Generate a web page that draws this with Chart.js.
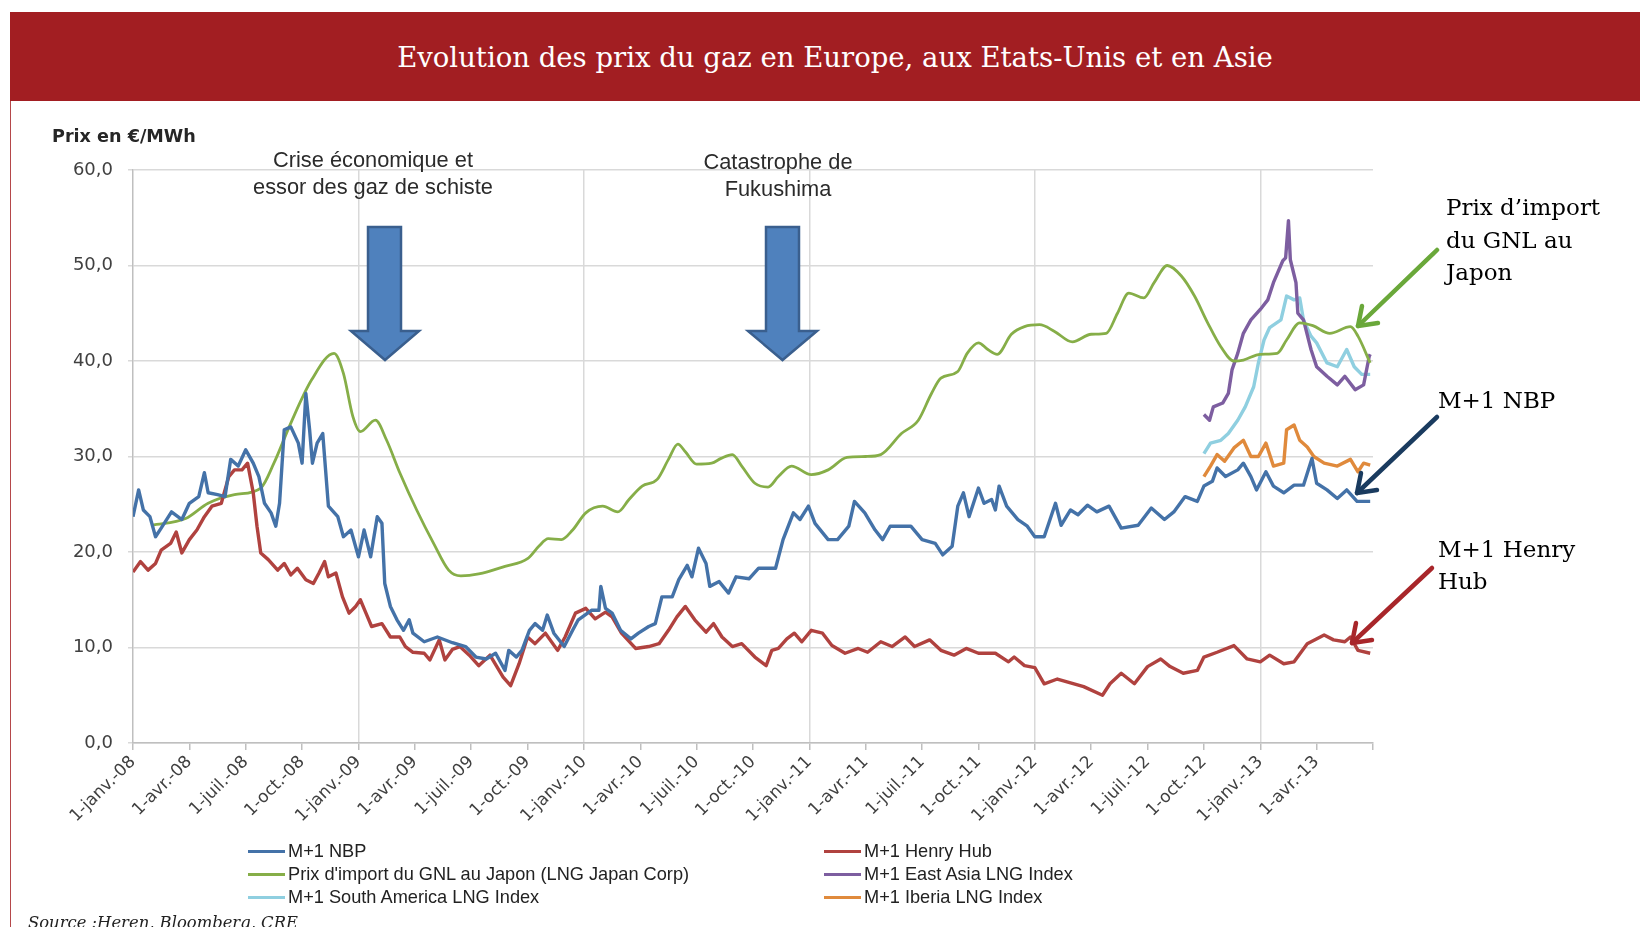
<!DOCTYPE html>
<html lang="fr">
<head>
<meta charset="utf-8">
<title>Evolution des prix du gaz</title>
<script src="https://cdn.jsdelivr.net/npm/chart.js@4.4.0/dist/chart.umd.min.js"></script>
<style>
  html, body { margin:0; padding:0; }
  body { width:1640px; height:927px; overflow:hidden; background:#fff; position:relative; }
  #banner { position:absolute; left:10px; top:12px; width:1630px; height:89px; background:#a21e22; }
  #title { position:absolute; left:0; width:1670px; top:37px; line-height:40px; text-align:center;
           font-family:"DejaVu Serif", serif; font-size:27.5px; color:#fff; white-space:nowrap; }
  #leftline { position:absolute; left:10px; top:101px; width:1px; height:826px; background:#b5484a; }
  #wrap { position:absolute; left:0; top:0; width:1640px; height:927px; }
  .ann { position:absolute; font-family:"Liberation Sans", Arial, sans-serif; font-size:21.8px; color:#2b2b2b;
         text-align:center; line-height:27px; white-space:nowrap; }
  .rann { position:absolute; font-family:"DejaVu Serif", serif; font-size:23px; color:#000; white-space:nowrap; }
  #ytitle { position:absolute; left:52px; top:126px; line-height:20px; font-family:"DejaVu Sans", sans-serif;
            font-weight:bold; font-size:17.6px; color:#262626; white-space:nowrap; }
  .leg { position:absolute; height:22px; display:flex; align-items:center; font-family:"Liberation Sans", Arial, sans-serif;
         font-size:18.2px; color:#222; white-space:nowrap; }
  .leg span.sw { display:inline-block; width:37px; height:3px; margin-right:3px; }
  #source { position:absolute; left:28px; top:913px; line-height:20px; font-family:"DejaVu Serif", serif; font-style:italic;
            font-size:16.4px; color:#222; white-space:nowrap; }
  svg { position:absolute; left:0; top:0; pointer-events:none; }
</style>
</head>
<body>
<div id="banner"></div>
<div id="title">Evolution des prix du gaz en Europe, aux Etats-Unis et en Asie</div>
<div id="leftline"></div>
<div id="wrap"><canvas id="chart" width="1640" height="927"></canvas></div>
<div id="ytitle">Prix en €/MWh</div>
<div class="ann" style="left:223px; width:300px; top:146px;">Crise économique et<br>essor des gaz de schiste</div>
<div class="ann" style="left:628px; width:300px; top:148px;">Catastrophe de<br>Fukushima</div>
<div class="rann" style="left:1446px; top:191px; line-height:32.5px;">Prix d’import<br>du GNL au<br>Japon</div>
<div class="rann" style="left:1438px; top:384px; line-height:33px;">M+1 NBP</div>
<div class="rann" style="left:1438px; top:534px; line-height:31.5px;">M+1 Henry<br>Hub</div>
<svg width="1640" height="927" viewBox="0 0 1640 927">
  <polygon points="368,227 401,227 401,331 419,331 385,360 351,331 368,331" fill="#4f81bd" stroke="#3a5f8e" stroke-width="2.5" stroke-linejoin="miter"/>
  <polygon points="766,227 799,227 799,331 817,331 782.5,360 748,331 766,331" fill="#4f81bd" stroke="#3a5f8e" stroke-width="2.5" stroke-linejoin="miter"/>
  <g fill="none" stroke-width="4.5" stroke-linecap="round" stroke-linejoin="round">
    <line x1="1437" y1="250" x2="1358" y2="326" stroke="#6aa83a"/>
    <polyline points="1378,323 1358,326 1362,306" stroke="#6aa83a"/>
    <line x1="1437" y1="417" x2="1357" y2="493" stroke="#1a3b5f"/>
    <polyline points="1377,490 1357,493 1361,473" stroke="#1a3b5f"/>
    <line x1="1432" y1="568" x2="1352" y2="643" stroke="#a8262a"/>
    <polyline points="1372,640 1352,643 1356,623" stroke="#a8262a"/>
  </g>
</svg>
<div id="legend"></div>
<div id="source">Source :Heren, Bloomberg, CRE</div>

<script>
// ---- Axis ticks (months since 1-janv.-08) ----
const tickMonths = [0,3,6,9,12,15,18,21,24,27,30,33,36,39,42,45,48,51,54,57,60,63,66];
const tickLabels = ['1-janv.-08','1-avr.-08','1-juil.-08','1-oct.-08','1-janv.-09','1-avr.-09','1-juil.-09','1-oct.-09',
  '1-janv.-10','1-avr.-10','1-juil.-10','1-oct.-10','1-janv.-11','1-avr.-11','1-juil.-11','1-oct.-11',
  '1-janv.-12','1-avr.-12','1-juil.-12','1-oct.-12','1-janv.-13','1-avr.-13',''];

// ---- M+1 NBP ----
const nbpMonths = [0,0.3,0.55,0.9,1.2,1.5,2.05,2.6,3.0,3.5,3.8,4.0,4.5,4.9,5.2,5.6,6.0,6.4,6.7,7.0,7.35,7.6,7.8,8.05,8.4,8.8,9.0,9.2,9.4,9.55,9.8,10.1,10.25,10.4,10.9,11.2,11.6,12.0,12.3,12.65,13.0,13.25,13.4,13.7,14.05,14.4,14.7,14.9,15.5,16.2,17.0,17.7,18.25,18.8,19.3,19.8,20.0,20.4,20.7,21.1,21.4,21.8,22.05,22.4,22.95,23.4,23.7,24.4,24.8,24.9,25.15,25.5,25.95,26.5,26.9,27.45,27.8,28.15,28.7,29.05,29.5,29.75,30.1,30.5,30.7,31.2,31.7,32.1,32.8,33.3,34.2,34.6,35.15,35.5,35.95,36.3,37.0,37.5,38.1,38.4,38.95,39.5,39.9,40.3,40.9,41.4,42.0,42.7,43.1,43.6,43.9,44.2,44.5,45.0,45.3,45.7,45.9,46.1,46.5,47.1,47.6,48.0,48.5,49.1,49.4,49.9,50.3,50.8,51.3,51.95,52.6,53.5,54.2,54.9,55.4,56.0,56.65,57.0,57.45,57.7,58.15,58.8,59.1,59.5,59.8,60.3,60.7,61.25,61.8,62.3,62.75,63.0,63.55,64.1,64.6,65.15,65.85];
const nbpValues = [23.7,26.5,24.4,23.7,21.6,22.5,24.2,23.4,25.1,25.8,28.3,26.2,26.0,25.8,29.7,29.0,30.7,29.3,27.9,25.1,24.1,22.7,25.1,32.8,33.1,31.4,29.3,36.6,32.8,29.3,31.4,32.4,28.6,24.8,23.7,21.6,22.3,19.5,22.3,19.5,23.7,23.0,16.7,14.3,12.9,11.8,12.9,11.5,10.6,11.1,10.5,10.1,9.0,8.8,9.4,7.6,9.7,9.0,9.7,11.8,12.5,11.8,13.4,11.5,10.1,11.8,12.9,13.9,13.9,16.4,14.1,13.6,11.8,10.9,11.5,12.2,12.5,15.3,15.3,17.1,18.6,17.4,20.4,18.8,16.4,16.9,15.7,17.4,17.2,18.3,18.3,21.3,24.1,23.4,24.8,23.0,21.3,21.3,22.7,25.3,24.1,22.3,21.3,22.7,22.7,22.7,21.3,20.9,19.7,20.6,24.8,26.2,23.7,26.7,25.1,25.5,24.4,26.9,24.8,23.4,22.7,21.6,21.6,25.1,22.8,24.4,23.9,24.9,24.2,24.8,22.5,22.8,24.6,23.4,24.2,25.8,25.3,26.9,27.4,28.8,27.9,28.6,29.3,27.9,26.5,28.4,26.9,26.2,27.0,27.0,29.8,27.2,26.5,25.6,26.5,25.3,25.3];

// ---- M+1 Henry Hub ----
const hhMonths = [0,0.4,0.8,1.2,1.5,2.0,2.3,2.6,3.0,3.4,3.8,4.2,4.7,5.1,5.4,5.8,6.1,6.4,6.6,6.8,7.2,7.7,8.05,8.4,8.75,9.2,9.6,9.9,10.2,10.4,10.8,11.15,11.5,11.85,12.1,12.4,12.7,13.25,13.7,14.2,14.5,14.9,15.5,15.8,16.3,16.6,17.0,17.4,17.9,18.4,19.0,19.7,20.1,20.55,21.0,21.4,21.95,22.6,23.0,23.55,24.1,24.6,25.15,25.5,26.0,26.75,27.45,28.0,28.5,28.95,29.4,29.9,30.5,30.9,31.35,31.9,32.4,33.1,33.7,34.0,34.35,34.8,35.2,35.6,36.1,36.7,37.2,37.9,38.6,39.1,39.8,40.4,41.1,41.6,42.4,43.0,43.7,44.35,45.0,45.9,46.6,46.9,47.45,48.0,48.5,49.2,49.9,50.6,51.6,52.0,52.6,53.3,54.0,54.7,55.2,55.9,56.65,57.0,57.7,58.6,59.3,60.0,60.5,61.25,61.8,62.5,63.4,63.9,64.5,64.8,65.2,65.85];
const hhValues = [17.9,19.0,18.1,18.8,20.2,20.9,22.1,19.9,21.3,22.3,23.7,24.8,25.1,27.9,28.6,28.6,29.3,26.2,22.7,19.9,19.2,18.1,18.8,17.6,18.3,17.1,16.7,17.8,19.0,17.4,17.8,15.3,13.6,14.3,15.0,13.6,12.2,12.5,11.1,11.1,10.1,9.5,9.4,8.7,10.8,8.7,9.8,10.1,9.2,8.1,9.2,6.9,6.0,8.3,11.1,10.4,11.5,9.7,11.1,13.6,14.1,13.0,13.7,13.2,11.5,9.9,10.1,10.4,11.8,13.2,14.3,12.9,11.6,12.5,11.1,10.1,10.4,9.0,8.1,9.7,9.9,10.9,11.5,10.6,11.8,11.5,10.2,9.4,9.9,9.5,10.6,10.1,11.1,10.1,10.8,9.7,9.2,9.9,9.4,9.4,8.5,9.0,8.1,7.9,6.2,6.7,6.3,5.9,5.0,6.2,7.3,6.2,8.0,8.8,8.0,7.3,7.6,9.0,9.5,10.2,8.8,8.5,9.2,8.3,8.5,10.4,11.3,10.8,10.6,11.1,9.7,9.4];

// ---- Prix d'import du GNL au Japon ----
const jpMonths = [1.0,2.8,4.0,5.4,6.8,7.5,8.4,9.5,10.7,11.2,11.7,12.1,12.9,13.5,14.2,15.1,16.0,16.8,17.45,18.4,19.8,21.0,21.6,22.1,22.8,23.4,24.1,25.0,25.8,26.4,27.1,27.9,28.5,29.0,29.4,30.0,30.8,31.3,31.9,32.4,33.1,33.8,34.35,35.05,36.1,37.0,38.0,39.0,39.8,40.9,41.8,42.5,43.0,43.9,44.4,45.0,45.5,46.0,46.75,47.45,48.25,49.05,50.0,51.0,51.8,52.4,53.0,53.8,54.35,55.05,55.8,56.5,57.2,57.9,58.6,59.1,60.0,60.9,61.4,62.1,62.8,63.7,64.8,65.2,65.85];
const jpValues = [22.8,23.5,25.1,26.0,26.7,29.3,33.5,38.0,40.8,38.7,34.2,32.6,33.8,31.7,28.3,24.4,20.9,18.1,17.5,17.7,18.5,19.3,20.6,21.4,21.3,22.3,24.1,24.8,24.2,25.5,26.9,27.6,29.7,31.3,30.5,29.2,29.3,29.8,30.2,29.0,27.2,26.8,27.9,29.0,28.1,28.6,29.9,30.0,30.2,32.4,33.8,36.6,38.2,38.9,40.8,41.9,41.2,40.7,42.8,43.6,43.8,43.1,42.0,42.8,42.9,45.0,47.1,46.6,48.2,50.0,48.9,46.8,44.0,41.5,40.0,40.1,40.7,40.8,42.2,44.0,43.7,42.9,43.6,42.6,39.8];

// ---- M+1 East Asia LNG Index ----
const eaMonths = [57.0,57.3,57.5,58.0,58.3,58.5,58.8,59.1,59.5,60.0,60.4,60.7,61.2,61.35,61.5,61.6,61.9,62.0,62.3,62.7,63.0,63.55,64.1,64.5,65.05,65.5,65.8,65.85];
const eaValues = [34.4,33.8,35.2,35.6,36.6,39.1,40.8,42.9,44.3,45.4,46.4,48.2,50.5,50.8,54.7,50.6,48.2,45.0,44.3,41.2,39.4,38.4,37.5,38.4,37.0,37.5,40.5,40.7];

// ---- M+1 South America LNG Index ----
const saMonths = [57.0,57.35,57.9,58.3,58.8,59.2,59.65,59.9,60.2,60.5,61.1,61.4,61.8,62.1,62.3,62.7,63.0,63.55,64.1,64.6,65.0,65.4,65.85];
const saValues = [30.3,31.4,31.7,32.4,33.8,35.2,37.3,39.8,42.2,43.5,44.3,46.8,46.4,46.6,44.3,42.6,41.9,39.8,39.4,41.2,39.4,38.6,38.6];

// ---- M+1 Iberia LNG Index ----
const ibMonths = [57.0,57.35,57.7,58.1,58.6,59.1,59.5,59.9,60.3,60.7,61.25,61.4,61.8,62.1,62.5,62.85,63.4,64.1,64.8,65.2,65.5,65.85];
const ibValues = [27.9,29.0,30.2,29.5,30.9,31.7,30.0,30.0,31.4,29.0,29.3,32.8,33.3,31.7,31.0,30.0,29.3,29.0,29.7,28.4,29.3,29.1];

const seriesNames = ['M+1 NBP','M+1 Henry Hub','Prix d\'import du GNL au Japon (LNG Japan Corp)','M+1 East Asia LNG Index','M+1 South America LNG Index','M+1 Iberia LNG Index'];
const seriesColors = ['#4472a8','#b0423f','#86ae48','#7d5ea0','#8fcfe0','#e08a3c'];

const toPts = (xs, ys) => xs.map((x, i) => ({ x: x, y: ys[i] }));
const sets = [
  [nbpMonths, nbpValues], [hhMonths, hhValues], [jpMonths, jpValues],
  [eaMonths, eaValues], [saMonths, saValues], [ibMonths, ibValues]
];
const datasets = sets.map((s, i) => ({
  label: seriesNames[i],
  data: toPts(s[0], s[1]),
  borderColor: seriesColors[i],
  backgroundColor: seriesColors[i],
  borderWidth: i === 2 ? 2.8 : 3.4,
  pointRadius: 0,
  fill: false,
  tension: i === 2 ? 0.4 : 0,
  cubicInterpolationMode: i === 2 ? 'monotone' : 'default',
  borderJoinStyle: 'round'
}));

const chart = new Chart(document.getElementById('chart'), {
  type: 'line',
  data: { datasets: datasets },
  options: {
    responsive: false,
    animation: false,
    events: [],
    layout: { padding: { left: 0, top: 170, right: 267, bottom: 84 } },
    plugins: { legend: { display: false }, tooltip: { enabled: false } },
    scales: {
      x: {
        type: 'linear', min: 0, max: 66,
        afterBuildTicks: s => { s.ticks = tickMonths.map(v => ({ value: v })); },
        afterFit: s => { s.height = 100; },
        ticks: {
          autoSkip: false, minRotation: 45, maxRotation: 45, padding: 2,
          font: { family: 'DejaVu Sans', size: 17 }, color: '#404040',
          callback: (v, i) => tickLabels[i] !== undefined ? tickLabels[i] : ''
        },
        grid: {
          color: c => (c.tick && c.tick.value % 12 === 0 && c.tick.value > 0) ? '#d9d9d9' : 'rgba(0,0,0,0)',
          lineWidth: 1.5, tickColor: '#bfbfbf', tickLength: 7, drawTicks: true
        },
        border: { color: '#bfbfbf', width: 1.5 }
      },
      y: {
        min: 0, max: 60,
        afterFit: s => { s.width = 133; },
        ticks: {
          stepSize: 10, padding: 15,
          font: { family: 'DejaVu Sans', size: 18 }, color: '#404040',
          callback: v => v.toFixed(1).replace('.', ',')
        },
        grid: { color: '#d9d9d9', lineWidth: 1.5, tickLength: 5, tickColor: '#d9d9d9' },
        border: { color: '#bfbfbf', width: 1.5 }
      }
    }
  }
});

// HTML legend built from the chart's datasets (two columns, row-major)
const legendEl = document.getElementById('legend');
const legRowY = [851, 874, 897];
const legColX = [248, 824];
chart.data.datasets.forEach((ds, i) => {
  const row = Math.floor(i / 2), col = i % 2;
  const d = document.createElement('div');
  d.className = 'leg';
  d.style.left = legColX[col] + 'px';
  d.style.top = (legRowY[row] - 11) + 'px';
  const sw = document.createElement('span');
  sw.className = 'sw';
  sw.style.background = ds.borderColor;
  d.appendChild(sw);
  d.appendChild(document.createTextNode(ds.label));
  legendEl.appendChild(d);
});
</script>
</body>
</html>
